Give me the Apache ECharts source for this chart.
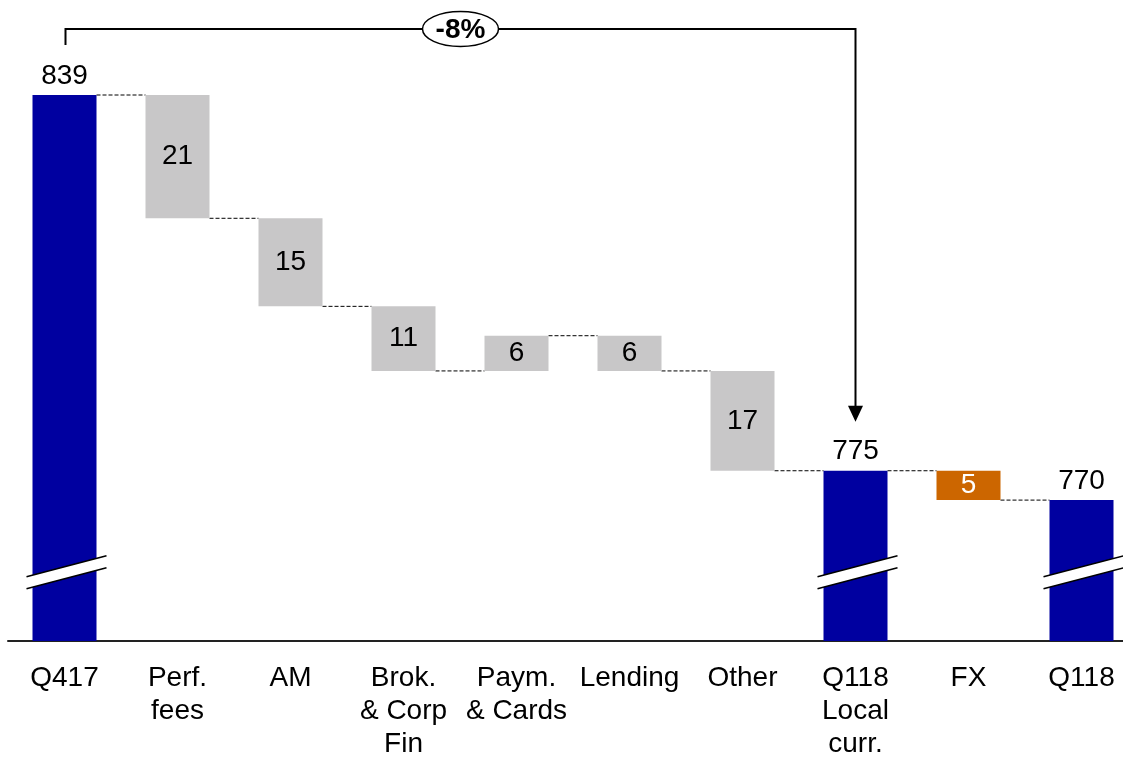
<!DOCTYPE html>
<html>
<head>
<meta charset="utf-8">
<script src="https://cdn.jsdelivr.net/npm/echarts@6/dist/echarts.min.js"></script>
<style>
html,body{margin:0;padding:0;background:#fff;overflow:hidden;}
#chart{width:1123px;height:761px;}
</style>
</head>
<body>
<div id="chart"></div>
<script>
// ---- data ----
const categories = ['Q417', 'Perf.\nfees', 'AM', 'Brok.\n& Corp\nFin', 'Paym.\n& Cards', 'Lending', 'Other', 'Q118\nLocal\ncurr.', 'FX', 'Q118'];
const kinds = ['total', 'delta', 'delta', 'delta', 'delta', 'delta', 'delta', 'total', 'fx', 'total'];
const values = [839, -21, -15, -11, 6, -6, -17, 775, -5, 770];
const valueLabels = ['839', '21', '15', '11', '6', '6', '17', '775', '5', '770'];
const changeLabel = '-8%';
const bracketFrom = 0;
const bracketTo = 7;
const axisMin = 746;
const axisMax = 839;
const breakValue = 757.7;

// ---- build ----
const colors = { total: '#0000A0', delta: '#C8C7C8', fx: '#CC6600' };
const FONT = "'Liberation Sans', Arial, sans-serif";
const FS = 28;
const BAR_W = 64;

const baseData = [];
const barData = [];
const connectorData = [];
let running = 0;
values.forEach((v, i) => {
  const k = kinds[i];
  let low, high;
  if (k === 'total') {
    low = 0; high = v; running = v;
  } else {
    const next = running + v;
    low = Math.min(running, next); high = Math.max(running, next);
    running = next;
  }
  baseData.push(low);
  barData.push({
    value: high - low,
    itemStyle: { color: colors[k] },
    label: k === 'total'
      ? { show: true, position: 'top', distance: 5, formatter: valueLabels[i], color: '#000', fontSize: FS, fontFamily: FONT }
      : { show: true, position: 'inside', formatter: valueLabels[i], color: k === 'fx' ? '#fff' : '#000', fontSize: FS, fontFamily: FONT }
  });
  if (i < values.length - 1) connectorData.push([i, running]);
});
const breakData = [];
kinds.forEach((k, i) => { if (k === 'total') breakData.push([i, breakValue]); });

const chart = echarts.init(document.getElementById('chart'), null, { renderer: 'canvas' });
chart.setOption({
  animation: false,
  backgroundColor: '#fff',
  grid: { left: 8, width: 1130, top: 95, height: 546, containLabel: false, outerBoundsMode: 'none' },
  xAxis: {
    type: 'category',
    data: categories,
    axisTick: { show: false },
    axisLine: { lineStyle: { color: '#222', width: 2 } },
    axisLabel: { color: '#000', fontSize: FS, fontFamily: FONT, lineHeight: 33, margin: 21, interval: 0 }
  },
  yAxis: {
    type: 'value', min: axisMin, max: axisMax, show: false,
    splitLine: { show: false }
  },
  series: [
    {
      type: 'bar', stack: 'w', data: baseData, barWidth: BAR_W,
      itemStyle: { color: 'transparent' }, silent: true
    },
    {
      type: 'bar', stack: 'w', data: barData, barWidth: BAR_W
    },
    {
      type: 'custom', clip: false, silent: true, z: 1,
      data: connectorData,
      renderItem: function (params, api) {
        const p = api.coord([api.value(0), api.value(1)]);
        const band = api.size([1, 0])[0];
        return {
          type: 'line',
          shape: { x1: p[0] + BAR_W / 2, y1: p[1], x2: p[0] + band - BAR_W / 2, y2: p[1] },
          style: { stroke: '#000', lineWidth: 1, lineDash: [4, 2] }
        };
      }
    },
    {
      type: 'custom', clip: false, silent: true, z: 5,
      data: breakData,
      renderItem: function (params, api) {
        const p = api.coord([api.value(0), api.value(1)]);
        const cx = p[0] + 2, cy = p[1];
        return {
          type: 'group',
          children: [
            { type: 'polygon', shape: { points: [[cx - 40, cy + 4.5], [cx + 40, cy - 16.5], [cx + 40, cy - 4.5], [cx - 40, cy + 16.5]] }, style: { fill: '#fff' } },
            { type: 'line', shape: { x1: cx - 40, y1: cy + 4.5, x2: cx + 40, y2: cy - 16.5 }, style: { stroke: '#000', lineWidth: 1.5 } },
            { type: 'line', shape: { x1: cx - 40, y1: cy + 16.5, x2: cx + 40, y2: cy - 4.5 }, style: { stroke: '#000', lineWidth: 1.5 } }
          ]
        };
      }
    },
    {
      type: 'custom', clip: false, silent: true, z: 6,
      data: [[bracketFrom, values[bracketFrom], bracketTo, values[bracketTo]]],
      renderItem: function (params, api) {
        const a = api.coord([api.value(0), api.value(1)]);
        const b = api.coord([api.value(2), api.value(3)]);
        const lineY = params.coordSys.y - 66;
        const x1 = a[0] + 1, x2 = b[0];
        const yA = a[1] - 50, tip = b[1] - 49;
        const mx = (x1 + x2) / 2;
        return {
          type: 'group',
          children: [
            { type: 'polyline', shape: { points: [[x1, yA], [x1, lineY], [x2, lineY], [x2, tip - 14]] }, style: { stroke: '#000', lineWidth: 2, fill: null } },
            { type: 'polygon', shape: { points: [[x2 - 7.5, tip - 16], [x2 + 7.5, tip - 16], [x2, tip]] }, style: { fill: '#000' } },
            { type: 'ellipse', shape: { cx: mx, cy: lineY, rx: 38, ry: 17.5 }, style: { fill: '#fff', stroke: '#000', lineWidth: 1.5 } },
            { type: 'text', style: { x: mx, y: lineY + 1, text: changeLabel, fill: '#000', font: 'bold 28px ' + FONT, align: 'center', verticalAlign: 'middle' } }
          ]
        };
      }
    }
  ]
});
</script>
</body>
</html>
